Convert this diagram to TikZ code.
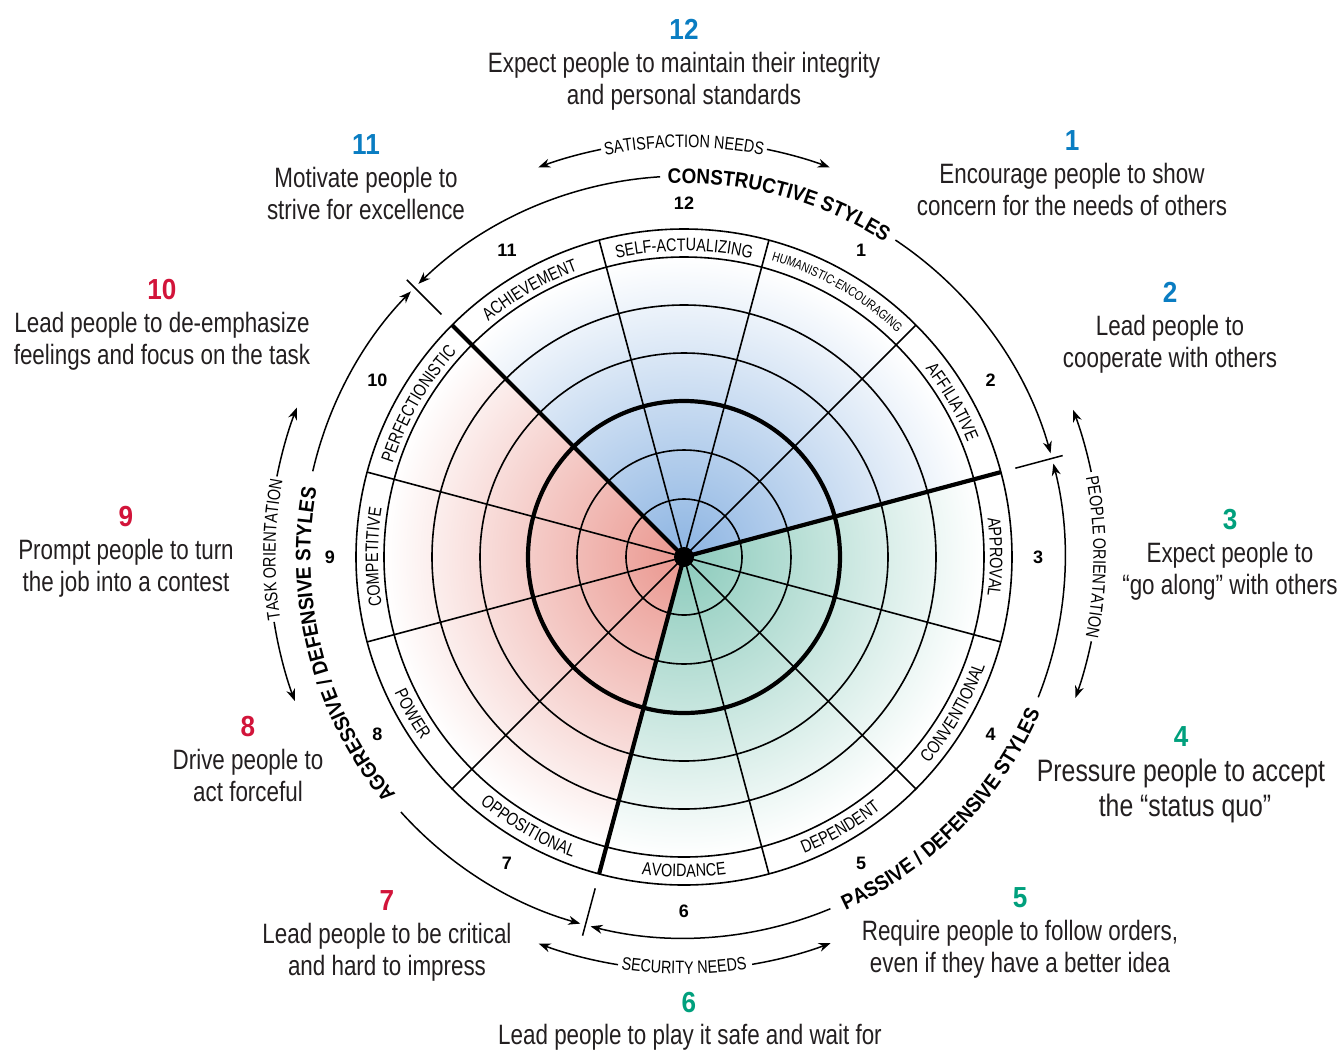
\documentclass[tikz,border=0pt]{standalone}
\usepackage{fontspec}
\setmainfont{Liberation Sans}
\newfontfamily\condfont[FakeStretch=0.8]{Liberation Sans}
\newfontfamily\bcondfont[FakeStretch=0.9]{Liberation Sans}
\usetikzlibrary{decorations.text,arrows.meta}
\definecolor{cblue}{RGB}{10,125,194}
\definecolor{cred}{RGB}{210,20,58}
\definecolor{cgreen}{RGB}{0,160,125}
\definecolor{txt}{RGB}{35,31,32}
\definecolor{shblue}{RGB}{140,180,226}
\definecolor{shred}{RGB}{234,150,142}
\definecolor{shgreen}{RGB}{140,203,188}
\newcommand{\cwtext}[4]{%
  \path[decorate,decoration={text along path,text align=center,text={#4}}]
    (#1+#3:#2) arc[start angle=#1+#3,end angle=#1-#3,radius=#2];}
\newcommand{\ccwtext}[4]{%
  \path[decorate,decoration={text along path,text align=center,text={#4}}]
    (#1-#3:#2) arc[start angle=#1-#3,end angle=#1+#3,radius=#2];}
\newcommand{\bandf}{\condfont\fontsize{9}{10}\selectfont}
\newcommand{\smallbandf}{\condfont\fontsize{6.5}{7}\selectfont}
\newcommand{\stylef}{\bcondfont\bfseries\fontsize{10.5}{12}\selectfont}
\newcommand{\desc}[7]{%
  \node[bignum,text=#4] (#1n) at (#2,-#3) {#5};
  \node[desctext] (#1a) at (#2,-#3-33) {#6};
  \node[desctext] (#1b) at (#2,-#3-65) {#7};}
\begin{document}
\begin{tikzpicture}[x=0.5pt,y=0.5pt,
  desctext/.style={font=\condfont\fontsize{14}{16}\selectfont, text=txt, anchor=base, inner sep=0pt},
  bignum/.style={font=\bcondfont\bfseries\fontsize{14.5}{16}\selectfont, anchor=base, inner sep=0pt},
  smallnum/.style={font=\bfseries\fontsize{9}{10}\selectfont, inner sep=0pt},
  gridline/.style={line width=0.8pt},
  thickline/.style={line width=2.1pt},
  arcline/.style={line width=0.75pt},
  arrowend/.style={-{Stealth[length=6pt,width=4.5pt]}}
]
\fill[white] (0,0) rectangle (1340,-1057);
\useasboundingbox (0,0) rectangle (1340,-1057);

\begin{scope}[shift={(684,-557)}]
  % shaded sectors
  \begin{scope}
    \clip (0,0) -- (15:300) arc[start angle=15,end angle=135,radius=300] -- cycle;
    \shade[inner color=shblue,outer color=white] (0,0) circle (300);
  \end{scope}
  \begin{scope}
    \clip (0,0) -- (135:300) arc[start angle=135,end angle=255,radius=300] -- cycle;
    \shade[inner color=shred,outer color=white] (0,0) circle (300);
  \end{scope}
  \begin{scope}
    \clip (0,0) -- (255:300) arc[start angle=255,end angle=375,radius=300] -- cycle;
    \shade[inner color=shgreen,outer color=white] (0,0) circle (300);
  \end{scope}
  % grid
  \foreach \r in {58,107,204,252,300,328} \draw[gridline] (0,0) circle (\r);
  \draw[thickline] (0,0) circle (156);
  \foreach \a in {45,75,105,165,195,225,285,315,345} \draw[gridline] (0,0) -- (\a:328);
  \foreach \a in {15,135,255} \draw[thickline] (0,0) -- (\a:328);
  \fill (0,0) circle (10);

  % band labels
  \cwtext{90}{306}{50}{|\bandf|SELF-ACTUALIZING}
  \cwtext{120}{306}{50}{|\bandf|ACHIEVEMENT}
  \cwtext{150}{306}{50}{|\bandf|PERFECTIONISTIC}
  \cwtext{180}{306}{50}{|\bandf|COMPETITIVE}
  \cwtext{30}{306}{50}{|\bandf|AFFILIATIVE}
  \cwtext{0}{306}{50}{|\bandf|APPROVAL}
  \cwtext{60}{309.5}{50}{|\smallbandf|HUMANISTIC-ENCOURAGING}
  \ccwtext{210}{320}{50}{|\bandf|POWER}
  \ccwtext{240}{320}{50}{|\bandf|OPPOSITIONAL}
  \ccwtext{270}{320}{50}{|\bandf|AVOIDANCE}
  \ccwtext{300}{320}{50}{|\bandf|DEPENDENT}
  \ccwtext{330}{320}{50}{|\bandf|CONVENTIONAL}

  % small numbers
  \foreach \n in {1,...,12} \node[smallnum] (s\n) at ({90-30*\n}:354) {\n};

  % style arcs with arrows
  \draw[arcline,arrowend] (93.6:381) arc[start angle=93.6,end angle=134.2,radius=381];
  \draw[arcline,arrowend] (56.3:381) arc[start angle=56.3,end angle=15.8,radius=381];
  \draw[arcline,arrowend] (167:381) arc[start angle=167,end angle=135.8,radius=381];
  \draw[arcline,arrowend] (222:381) arc[start angle=222,end angle=254.2,radius=381];
  \draw[arcline,arrowend] (292.6:381) arc[start angle=292.6,end angle=255.8,radius=381];
  \draw[arcline,arrowend] (338.4:381) arc[start angle=338.4,end angle=374.2,radius=381];
  \foreach \a in {15,135,255} \draw[arcline] (\a:343) -- (\a:392);

  \cwtext{75}{373.5}{60}{|\stylef|CONSTRUCTIVE STYLES}
  \cwtext{194.5}{373.5}{60}{|\stylef|AGGRESSIVE / DEFENSIVE STYLES}
  \ccwtext{315.5}{388.5}{60}{|\stylef|PASSIVE / DEFENSIVE STYLES}

  % need / orientation arcs
  \draw[arcline,arrowend] (101.5:416) arc[start angle=101.5,end angle=110.5,radius=416];
  \draw[arcline,arrowend] (78.5:416) arc[start angle=78.5,end angle=69.5,radius=416];
  \draw[arcline,arrowend] (260.8:413) arc[start angle=260.8,end angle=249.4,radius=413];
  \draw[arcline,arrowend] (279.5:413) arc[start angle=279.5,end angle=290.8,radius=413];
  \draw[arcline,arrowend] (168.8:415) arc[start angle=168.8,end angle=158.9,radius=415];
  \draw[arcline,arrowend] (189:415) arc[start angle=189,end angle=200.3,radius=415];
  \draw[arcline,arrowend] (11.8:416) arc[start angle=11.8,end angle=20.7,radius=416];
  \draw[arcline,arrowend] (-11.7:416) arc[start angle=-11.7,end angle=-19.8,radius=416];

  \cwtext{90}{409.5}{40}{|\bandf|SATISFACTION NEEDS}
  \ccwtext{270}{417}{40}{|\bandf|SECURITY NEEDS}
  \cwtext{179}{408.5}{40}{|\bandf|TASK ORIENTATION}
  \cwtext{0}{409.5}{40}{|\bandf|PEOPLE ORIENTATION}
\end{scope}

% descriptions
\desc{d12}{684}{39}{cblue}{12}{Expect people to maintain their integrity}{and personal standards}
\desc{d11}{366}{154}{cblue}{11}{Motivate people to}{strive for excellence}
\desc{d1}{1072}{150}{cblue}{1}{Encourage people to show}{concern for the needs of others}
\desc{d10}{162}{299}{cred}{10}{Lead people to de-emphasize}{feelings and focus on the task}
\desc{d2}{1170}{302}{cblue}{2}{Lead people to}{cooperate with others}
\desc{d9}{126}{526}{cred}{9}{Prompt people to turn}{the job into a contest}
\desc{d3}{1230}{529}{cgreen}{3}{Expect people to}{“go along” with others}
\desc{d8}{248}{736}{cred}{8}{Drive people to}{act forceful}
\desc{d7}{387}{910}{cred}{7}{Lead people to be critical}{and hard to impress}
\desc{d5}{1020}{907}{cgreen}{5}{Require people to follow orders,}{even if they have a better idea}
\node[bignum,text=cgreen] (d4n) at (1181,-746) {4};
\node[desctext,font=\condfont\fontsize{15.5}{17}\selectfont] (d4a) at (1181,-781) {Pressure people to accept};
\node[desctext,font=\condfont\fontsize{15.5}{17}\selectfont] (d4b) at (1185,-816) {the “status quo”};
\node[bignum,text=cgreen] (d6n) at (689,-1012) {6};
\node[desctext] (d6a) at (690,-1044) {Lead people to play it safe and wait for};
\end{tikzpicture}
\end{document}
